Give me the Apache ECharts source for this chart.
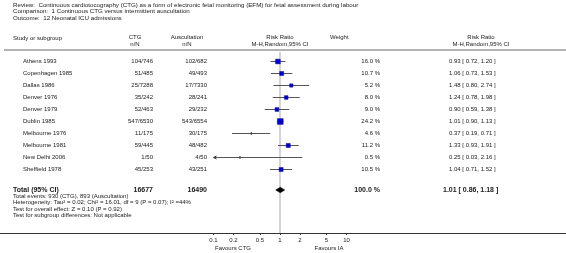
<!DOCTYPE html>
<html>
<head>
<meta charset="utf-8">
<script src="https://cdn.jsdelivr.net/npm/echarts@6/dist/echarts.min.js"></script>
<style>
html,body{margin:0;padding:0;background:#fff;}
#main{width:566px;height:253px;}
</style>
</head>
<body>
<div id="main"></div>
<script>
// data
var studies = ['Athens 1993', 'Copenhagen 1985', 'Dallas 1986', 'Denver 1976', 'Denver 1979',
    'Dublin 1985', 'Melbourne 1976', 'Melbourne 1981', 'New Delhi 2006', 'Sheffield 1978'];
var ctgNN = ['104/746', '51/485', '25/7288', '35/242', '52/463', '547/6530', '11/175', '59/445', '1/50', '45/253'];
var auscNN = ['102/682', '49/493', '17/7330', '28/241', '29/232', '543/6554', '30/175', '48/482', '4/50', '43/251'];
var weights = [16.0, 10.7, 5.2, 8.0, 9.0, 24.2, 4.6, 11.2, 0.5, 10.5];
var rr = [0.93, 1.06, 1.48, 1.24, 0.90, 1.01, 0.37, 1.33, 0.25, 1.04];
var rrLow = [0.72, 0.73, 0.80, 0.78, 0.59, 0.90, 0.19, 0.93, 0.03, 0.71];
var rrHigh = [1.20, 1.53, 2.74, 1.98, 1.38, 1.13, 0.71, 1.91, 2.16, 1.52];
var total = {ctg: '16677', ausc: '16490', weight: '100.0 %', rr: 1.01, low: 0.86, high: 1.18};
var xTicks = [0.1, 0.2, 0.5, 1, 2, 5, 10];
var xMin = 0.1, xMax = 10;

var titleLines = [
    'Review:  Continuous cardiotocography (CTG) as a form of electronic fetal monitoring (EFM) for fetal assessment during labour',
    'Comparison:  1 Continuous CTG versus intermittent auscultation',
    'Outcome:  12 Neonatal ICU admissions'
];
var footLines = [
    'Total events: 930 (CTG), 893 (Auscultation)',
    'Heterogeneity: Tau\u00b2 = 0.02; Chi\u00b2 = 16.01, df = 9 (P = 0.07); I\u00b2 =44%',
    'Test for overall effect: Z = 0.10 (P = 0.92)',
    'Test for subgroup differences: Not applicable'
];

var FONT = '"Liberation Sans", Arial, sans-serif';
var TXT = '#1a1a1a';
var totalRow = 10.75;

var chart = echarts.init(document.getElementById('main'));

var studyData = [];
for (var i = 0; i < studies.length; i++) {
    studyData.push([i, rr[i], rrLow[i], rrHigh[i], weights[i]]);
}

function fmt(v) {
    return v.toFixed(2);
}

var option = {
    animation: false,
    grid: {left: 213.5, width: 133, top: 52, height: 181},
    xAxis: {
        type: 'log',
        logBase: 10,
        min: xMin,
        max: xMax,
        axisLine: {show: false, onZero: false},
        splitLine: {show: false},
        axisTick: {show: true, customValues: xTicks, length: 2, lineStyle: {color: '#333', width: 1}},
        axisLabel: {
            customValues: xTicks,
            fontSize: 6,
            fontFamily: FONT,
            color: TXT,
            margin: 4,
            formatter: function (v) { return String(+v.toPrecision(3)); }
        }
    },
    yAxis: {type: 'value', inverse: true, min: -0.75, max: 14.3333, show: false},
    series: [
        {
            // line of no effect
            type: 'line',
            data: [[1, -0.75], [1, 14.3333]],
            showSymbol: false,
            silent: true,
            z: 1,
            lineStyle: {color: '#d4d4d4', width: 2}
        },
        {
            type: 'custom',
            z: 3,
            encode: {x: [1, 2, 3], y: 0},
            data: studyData,
            renderItem: function (params, api) {
                var row = api.value(0), est = api.value(1), lo = api.value(2), hi = api.value(3), w = api.value(4);
                var p0 = api.coord([Math.max(lo, xMin), row]);
                var p1 = api.coord([Math.min(hi, xMax), row]);
                var pe = api.coord([est, row]);
                var y = Math.round(p0[1]) + 0.5;
                var kids = [{
                    type: 'line',
                    shape: {x1: p0[0], y1: y, x2: p1[0], y2: y},
                    style: {stroke: '#555', lineWidth: 1}
                }];
                if (lo < xMin) {
                    kids.push({
                        type: 'polyline',
                        shape: {points: [[p0[0] + 3, y - 1.5], [p0[0], y], [p0[0] + 3, y + 1.5]]},
                        style: {stroke: '#333', fill: null, lineWidth: 1}
                    });
                }
                if (w < 5) {
                    kids.push({
                        type: 'line',
                        shape: {x1: pe[0], y1: y - 1.5, x2: pe[0], y2: y + 1.5},
                        style: {stroke: '#333', lineWidth: 1}
                    });
                } else {
                    var s = 2.6 + 0.13 * w;
                    kids.push({
                        type: 'rect',
                        shape: {x: pe[0] - s / 2, y: y - s / 2, width: s, height: s},
                        style: {fill: '#0000dd', stroke: '#00008a', lineWidth: 0.5}
                    });
                }
                return {type: 'group', children: kids};
            }
        },
        {
            type: 'custom',
            z: 3,
            encode: {x: [1, 2, 3], y: 0},
            data: [[totalRow, total.rr, total.low, total.high]],
            renderItem: function (params, api) {
                var row = api.value(0);
                var pl = api.coord([api.value(2), row]);
                var pe = api.coord([api.value(1), row]);
                var ph = api.coord([api.value(3), row]);
                return {
                    type: 'polygon',
                    shape: {points: [[pl[0], pe[1]], [pe[0], pe[1] - 2.8], [ph[0], pe[1]], [pe[0], pe[1] + 2.8]]},
                    style: {fill: '#000', stroke: '#000', lineWidth: 0.5}
                };
            }
        }
    ]
};
chart.setOption(option);

// text columns, rows placed through the y axis
function txt(str, x, y, align, size, bold) {
    return {
        type: 'text',
        silent: true,
        style: {
            text: str, x: x, y: y, align: align || 'left', verticalAlign: 'middle',
            fontSize: size || 6, fontFamily: FONT, fontWeight: bold ? 'bold' : 'normal', fill: TXT
        }
    };
}
function rowY(r) {
    return chart.convertToPixel({yAxisIndex: 0}, r);
}

var g = [];
titleLines.forEach(function (t, k) { g.push(txt(t, 13, 5 + k * 6.5, 'left', 6.2)); });

g.push(txt('Study or subgroup', 13, 38));
g.push(txt('CTG', 135, 37, 'center'));
g.push(txt('n/N', 135, 44, 'center'));
g.push(txt('Auscultation', 187, 37, 'center'));
g.push(txt('n/N', 187, 44, 'center'));
g.push(txt('Risk Ratio', 280, 37, 'center'));
g.push(txt('M-H,Random,95% CI', 280, 44, 'center'));
g.push(txt('Weight', 330, 37));
g.push(txt('Risk Ratio', 481, 37, 'center'));
g.push(txt('M-H,Random,95% CI', 481, 44, 'center'));

g.push({type: 'line', silent: true, shape: {x1: 4, y1: 50, x2: 566, y2: 50}, style: {stroke: '#9a9a9a', lineWidth: 1.5}});

for (var j = 0; j < studies.length; j++) {
    var y = rowY(j);
    g.push(txt(studies[j], 23, y));
    g.push(txt(ctgNN[j], 153, y, 'right'));
    g.push(txt(auscNN[j], 207, y, 'right'));
    g.push(txt(weights[j].toFixed(1) + ' %', 380, y, 'right'));
    g.push(txt(fmt(rr[j]) + ' [ ' + fmt(rrLow[j]) + ', ' + fmt(rrHigh[j]) + ' ]', 449, y));
}

var ty = rowY(totalRow);
g.push(txt('Total (95% CI)', 13, ty, 'left', 7, true));
g.push(txt(total.ctg, 153, ty, 'right', 7, true));
g.push(txt(total.ausc, 207, ty, 'right', 7, true));
g.push(txt(total.weight, 380, ty, 'right', 7, true));
g.push(txt(fmt(total.rr) + ' [ ' + fmt(total.low) + ', ' + fmt(total.high) + ' ]', 443, ty, 'left', 7, true));

footLines.forEach(function (t, k) { g.push(txt(t, 13, ty + 6.5 + k * 6.3)); });

g.push({type: 'line', silent: true, shape: {x1: 0, y1: 233.5, x2: 566, y2: 233.5}, style: {stroke: '#333', lineWidth: 1}});
g.push(txt('Favours CTG', 233, 248, 'center'));
g.push(txt('Favours IA', 329, 248, 'center'));

chart.setOption({graphic: g});
</script>
</body>
</html>
